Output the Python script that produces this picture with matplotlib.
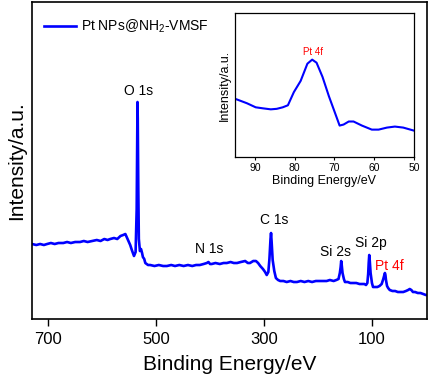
import numpy as np
import matplotlib
matplotlib.use("Agg")
import matplotlib.pyplot as plt

plt.rcParams["font.family"] = ["Liberation Sans", "DejaVu Sans"]
plt.rcParams["mathtext.default"] = "regular"

# survey spectrum (binding energy in eV, intensity in a.u.)
survey_be = [730, 722, 715, 708, 702, 695, 688, 681, 672, 665, 658, 650, 641,
             634, 627, 618, 610, 603, 596, 590, 585, 578, 572, 566, 561, 557,
             553, 548, 545, 541, 538, 536, 535, 534.5, 534, 533, 532, 530,
             528, 526, 524.5, 522, 520, 515, 511, 503, 495, 487, 480, 472,
             465, 457, 449, 441, 433, 426, 419, 412, 406, 403, 400, 397, 390,
             382, 375, 369, 362, 356, 350, 343, 335, 330, 326, 320, 315, 311,
             307, 302, 298, 295, 292, 290, 288, 287, 286, 284, 281, 278, 274,
             270, 264, 258, 251, 245, 239, 232, 225, 218, 211, 204, 197, 190,
             184, 178, 171, 166, 162, 159.5, 158, 157, 156, 154.5, 152, 150,
             145, 140, 135, 129, 123, 118, 114, 111, 108.5, 107, 106, 105,
             104, 102.5, 100, 98, 94, 90, 86, 82, 79, 77, 76, 75, 74, 72, 70,
             67, 62, 57, 52, 47, 42, 37, 33, 30, 27, 24, 20, 15, 10, 5, 0, -2]
survey_int = [75, 74, 75, 74, 75, 76, 75, 76, 76, 77, 76, 77, 77,
              78, 77, 78, 79, 78, 80, 79, 80, 81, 80, 83, 84, 85,
              80, 74, 69, 63, 67, 110, 180, 217, 200, 130, 80, 68,
              70, 66, 62, 60, 56, 54, 54, 53, 54, 53, 53, 54,
              53, 54, 53, 54, 53, 54, 54, 55, 56, 57, 55, 55, 56,
              55, 56, 56, 57, 56, 56, 57, 58, 56, 56, 58, 58, 56,
              53, 50, 47, 44, 47, 60, 80, 86, 78, 59, 48, 41, 39,
              38, 38, 37, 38, 37, 37, 38, 37, 38, 37, 38, 38, 38,
              38, 39, 38, 39, 40, 46, 52, 58, 54, 46, 40, 37,
              37, 36, 36, 36, 35, 35, 35, 34, 36, 45, 56, 64,
              58, 46, 36, 32, 32, 32, 33, 35, 40, 44, 46, 44, 39, 33, 31,
              29, 28, 28, 27, 27, 27, 28, 29, 30, 29, 27, 27, 26, 26, 25, 24, 24]

# high-resolution Pt 4f region
inset_be = [95, 94.7, 92, 89.8, 88, 86, 84.5, 83, 81.7, 80.2, 78.5, 77.5,
            76.8, 75.6, 74.5, 73, 71.4, 70, 68.7, 67.7, 66.4, 65.2, 63.1,
            60.6, 58.9, 56.8, 54.8, 52.7, 50]
inset_int = [57, 57, 53, 49, 48, 47, 47.5, 49, 51, 64, 75, 85,
             92, 96, 93, 79, 60, 45, 31, 32, 35, 35, 31,
             27, 27, 29, 30, 29, 26]

survey_labels = ["O 1s", "N 1s", "C 1s", "Si 2s", "Si 2p", "Pt 4f"]
survey_label_be = [532, 402, 281, 167, 102, 67]
survey_label_int = [228, 70, 99, 67, 76, 53]
survey_label_colors = ["black", "black", "black", "black", "black", "red"]

fig = plt.figure(figsize=(4.29, 3.82), dpi=100)
ax = fig.add_axes([0.0746, 0.1649, 0.9207, 0.8299])
ax.plot(survey_be, survey_int, color="#0000ff", lw=1.9,
        label="Pt NPs@NH$_2$-VMSF")
ax.set_xlim(730, -2)
ax.set_ylim(0, 317)
ax.set_xticks([700, 500, 300, 100])
ax.set_yticks([])
ax.tick_params(axis="x", direction="out", length=5, width=1, labelsize=12, pad=4)
for s in ax.spines.values():
    s.set_linewidth(1.2)
ax.set_xlabel("Binding Energy/eV", fontsize=15, labelpad=6)
ax.set_ylabel("Intensity/a.u.", fontsize=15, labelpad=4)
for t, bx, by, c in zip(survey_labels, survey_label_be, survey_label_int,
                        survey_label_colors):
    ax.text(bx, by, t, fontsize=10, color=c, ha="center", va="center")
ax.legend(loc="upper left", bbox_to_anchor=(0.005, 0.98), frameon=False,
          fontsize=10, handlelength=2.3, handletextpad=0.4,
          borderaxespad=0.3)

ins = fig.add_axes([0.5478, 0.589, 0.4172, 0.377])
ins.plot(inset_be, inset_int, color="#0000ff", lw=1.5)
ins.set_xlim(95, 50)
ins.set_ylim(0, 142)
ins.set_xticks([90, 80, 70, 60, 50])
ins.set_yticks([])
ins.tick_params(axis="x", direction="out", length=2, width=0.8, labelsize=7.5, pad=2)
for s in ins.spines.values():
    s.set_linewidth(0.9)
ins.set_xlabel("Binding Energy/eV", fontsize=9, labelpad=2)
ins.set_ylabel("Intensity/a.u.", fontsize=9, labelpad=3)
ins.text(75.5, 104, "Pt 4f", fontsize=7, color="red", ha="center", va="center")

fig.savefig("out.png", dpi=100)
